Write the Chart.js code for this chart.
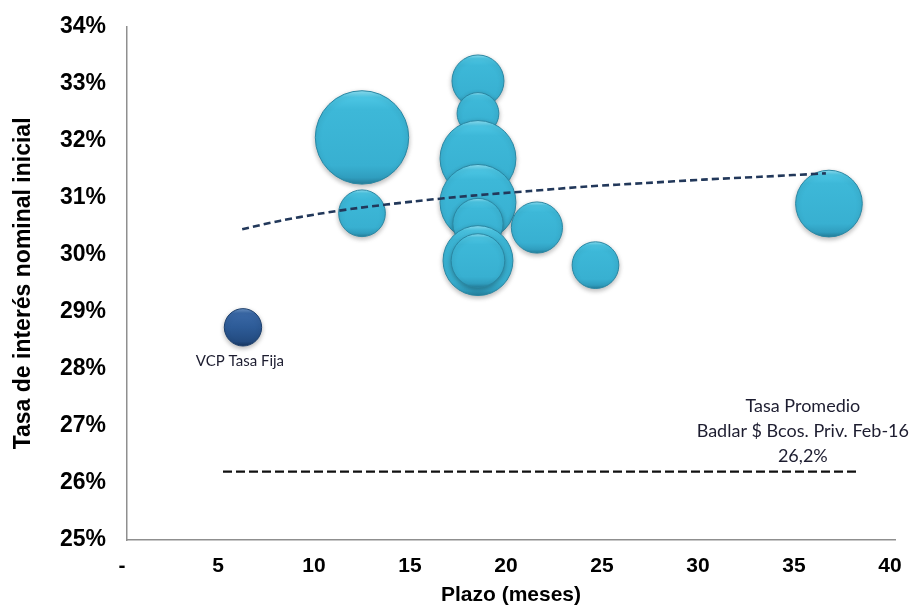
<!DOCTYPE html>
<html>
<head>
<meta charset="utf-8">
<script src="https://cdn.jsdelivr.net/npm/chart.js@4.4.1/dist/chart.umd.min.js"></script>
<style>
  html, body { margin: 0; padding: 0; background: #fff; }
  #wrap { width: 915px; height: 605px; }
</style>
</head>
<body>
<div id="wrap"><canvas id="tasas" width="915" height="605"></canvas></div>
<script>
// emisiones privadas: plazo (meses), tasa (%), monto (tamaño de burbuja)
const plazo = [12.24, 12.24, 18.28, 18.28, 18.28, 18.28, 18.28, 18.28, 18.28, 21.35, 24.4, 36.56];
const tasa  = [32.06, 30.73, 33.05, 32.48, 31.69, 30.92, 30.55, 29.90, 29.90, 30.48, 29.82, 30.90];
const monto = [100, 25, 31, 20, 66, 66, 29, 56, 33, 30, 25, 51];

// VCP tasa fija
const vcpPlazo = [6.04];
const vcpTasa = [28.73];
const vcpMonto = [16];

// tendencia (log) leida punto a punto
const tendPlazo = [6, 8, 10, 12, 15, 18, 21, 24, 27, 30, 33, 36.4];
const tendTasa  = [30.45, 30.60, 30.72, 30.82, 30.94, 31.04, 31.12, 31.20, 31.26, 31.32, 31.37, 31.43];

// badlar promedio bancos privados feb-16
const badlarPlazo = [5, 38];
const badlarTasa = 26.2;

const xTicks = [0, 5, 10, 15, 20, 25, 30, 35, 40];
const yTicks = [25, 26, 27, 28, 29, 30, 31, 32, 33, 34];

const radioBase = 4.67; // px por raiz de monto

function burbujas(xs, ys, ms) {
  return xs.map((x, i) => ({ x: x, y: ys[i], r: radioBase * Math.sqrt(ms[i]) }));
}

// relleno con relieve: borde claro arriba, oscuro abajo
function relieve(stops, plano) {
  return function (c) {
    const chart = c.chart;
    const ys = chart.scales && chart.scales.y;
    if (c.type !== 'data' || !ys || !c.raw) return plano;
    const py = ys.getPixelForValue(c.raw.y);
    const r = c.raw.r;
    if (!isFinite(py) || !isFinite(r)) return plano;
    const g = chart.ctx.createLinearGradient(0, py - r, 0, py + r);
    stops.forEach(s => g.addColorStop(s[0], s[1]));
    return g;
  };
}

const celeste = [[0, '#8fe3f7'], [0.07, '#4cc6e4'], [0.2, '#3db8d8'], [0.8, '#38b0d1'], [0.93, '#309ebf'], [1, '#25809c']];
const azul = [[0, '#6d96c8'], [0.12, '#3a68a6'], [0.5, '#2d5b97'], [0.88, '#234b80'], [1, '#173660']];

// sombra suave bajo las burbujas
const sombra = {
  id: 'sombra',
  beforeDatasetDraw(chart, args) {
    if (chart.data.datasets[args.index].type !== 'bubble') return;
    const ctx = chart.ctx;
    ctx.save();
    ctx.shadowColor = 'rgba(0,0,0,0.28)';
    ctx.shadowBlur = 5;
    ctx.shadowOffsetY = 2;
  },
  afterDatasetDraw(chart, args) {
    if (chart.data.datasets[args.index].type !== 'bubble') return;
    chart.ctx.restore();
  }
};

// textos sobre el grafico
const rotulos = {
  id: 'rotulos',
  afterDraw(chart) {
    const ctx = chart.ctx;
    const xs = chart.scales.x, ys = chart.scales.y;
    ctx.save();
    ctx.fillStyle = '#1d1d30';
    ctx.textAlign = 'center';
    ctx.textBaseline = 'middle';

    const vx = xs.getPixelForValue(vcpPlazo[0]);
    const vy = ys.getPixelForValue(vcpTasa[0]);
    ctx.font = '15px Lato';
    ctx.fillText('VCP Tasa Fija', vx - 3, vy + radioBase * Math.sqrt(vcpMonto[0]) + 15);

    const bx = xs.getPixelForValue(35.2);
    const by = ys.getPixelForValue(badlarTasa);
    ctx.font = '18px Lato';
    ctx.fillText('Tasa Promedio', bx, by - 65);
    ctx.fillText('Badlar $ Bcos. Priv. Feb-16', bx, by - 40);
    ctx.fillText('26,2%', bx, by - 15);
    ctx.restore();
  }
};

const ctx = document.getElementById('tasas').getContext('2d');
const grafico = new Chart(ctx, {
  data: {
    datasets: [
      {
        type: 'line',
        label: 'Tendencia',
        data: tendPlazo.map((x, i) => ({ x: x, y: tendTasa[i] })),
        borderColor: '#22385a',
        borderWidth: 2.6,
        borderDash: [7, 4],
        pointRadius: 0,
        tension: 0.3,
        fill: false,
        order: 0
      },
      {
        type: 'line',
        label: 'Badlar',
        data: badlarPlazo.map(x => ({ x: x, y: badlarTasa })),
        borderColor: '#111111',
        borderWidth: 2.2,
        borderDash: [9, 4],
        pointRadius: 0,
        fill: false,
        order: 0
      },
      {
        type: 'bubble',
        label: 'Emisiones',
        data: burbujas(plazo, tasa, monto),
        backgroundColor: relieve(celeste, '#3ab4d5'),
        borderColor: '#2a87a3',
        borderWidth: 1,
        clip: false,
        order: 1
      },
      {
        type: 'bubble',
        label: 'VCP Tasa Fija',
        data: burbujas(vcpPlazo, vcpTasa, vcpMonto),
        backgroundColor: relieve(azul, '#2d5b97'),
        borderColor: '#1c3f6c',
        borderWidth: 1,
        clip: false,
        order: 1
      }
    ]
  },
  options: {
    responsive: false,
    animation: false,
    events: [],
    layout: { autoPadding: false, padding: { left: 0, right: 20, top: 26, bottom: 0 } },
    plugins: {
      legend: { display: false },
      tooltip: { enabled: false }
    },
    scales: {
      x: {
        type: 'linear',
        min: 0,
        max: 40,
        afterBuildTicks: s => { s.ticks = xTicks.map(v => ({ value: v })); },
        afterFit: s => { s.height = 65; },
        grid: { display: false },
        border: { display: true, color: '#8f8f8f', width: 1.5 },
        ticks: {
          padding: 6,
          labelOffset: -5,
          color: '#000',
          font: { family: 'Liberation Sans, Arial', size: 21, weight: 'bold' },
          callback: v => v === 0 ? '-' : String(v)
        },
        title: {
          display: true,
          text: 'Plazo (meses)',
          color: '#000',
          padding: { top: 0, bottom: -3 },
          font: { family: 'Liberation Sans, Arial', size: 21, weight: 'bold' }
        }
      },
      y: {
        type: 'linear',
        min: 25,
        max: 34,
        afterBuildTicks: s => { s.ticks = yTicks.map(v => ({ value: v })); },
        afterFit: s => { s.width = 127; },
        grid: { display: false },
        border: { display: true, color: '#8f8f8f', width: 1.5 },
        ticks: {
          padding: 13,
          color: '#000',
          font: { family: 'Liberation Sans, Arial', size: 23, weight: 'bold' },
          callback: v => v + '%'
        },
        title: {
          display: true,
          text: 'Tasa de interés nominal inicial',
          color: '#000',
          padding: { top: 10, bottom: 0 },
          font: { family: 'Liberation Sans, Arial', size: 23, weight: 'bold' }
        }
      }
    }
  },
  plugins: [sombra, rotulos]
});
// segunda pasada para que el relieve use las escalas ya ubicadas
grafico.update('none');
</script>
</body>
</html>
